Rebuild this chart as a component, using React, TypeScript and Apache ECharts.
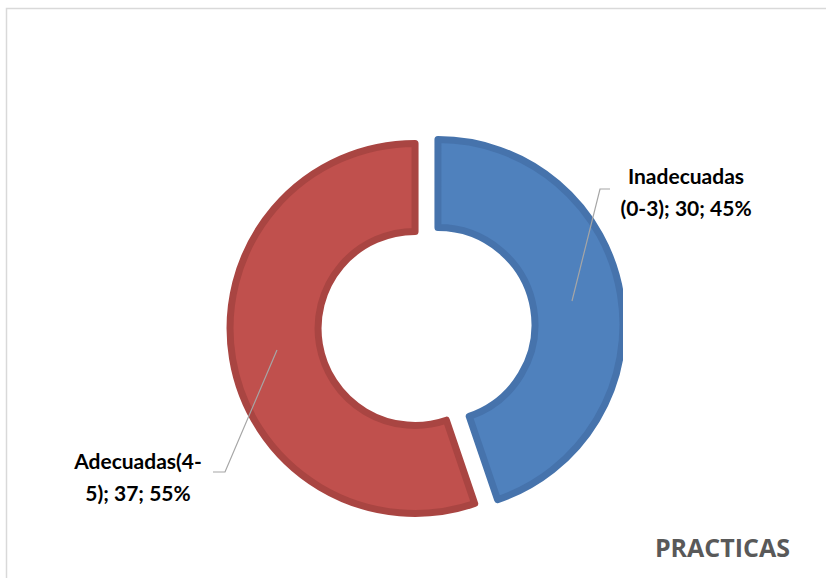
import React, { useEffect, useRef } from "react";
import * as echarts from "echarts";

const categories = ["Inadecuadas (0-3)", "Adecuadas(4-5)"];
const values = [30, 37];
const fillColors = ["#4F81BD", "#C0504D"];
const borderColors = ["#4673AC", "#A94542"];
const labelBreakAt = [12, 12];
const chartTitle = "PRACTICAS";

export default function App() {
  const ref = useRef<HTMLDivElement>(null);
  useEffect(() => {
    if (!ref.current) return;
    const chart = echarts.init(ref.current, undefined, { renderer: "svg" });
    const total = values.reduce((a, b) => a + b, 0);
    const labelText = categories.map((name, i) => {
      const s = `${name}; ${values[i]}; ${Math.round((values[i] / total) * 100)}%`;
      const k = labelBreakAt[i];
      return s.slice(0, k).trim() + "\n" + s.slice(k).trim();
    });
    const labelPos = [
      { x: 686, y: 191, line: [[572, 301], [600, 189], [610, 189]] },
      { x: 138, y: 476, line: [[277, 350], [225, 472], [213, 472]] },
    ];
    const labelGraphics: any[] = [];
    labelPos.forEach((lp, i) => {
      labelGraphics.push({
        type: "polyline",
        z: 102,
        shape: { points: lp.line },
        style: { stroke: "#A6A6A6", lineWidth: 1.2, fill: null },
      });
      labelGraphics.push({
        type: "text",
        z: 102,
        x: lp.x,
        y: lp.y,
        style: {
          text: labelText[i],
          fontFamily: "Lato",
          fontWeight: "bold",
          fontSize: 21,
          lineHeight: 32,
          fill: "#000000",
          align: "center",
          verticalAlign: "middle",
        },
      });
    });
    chart.setOption({
      animation: false,
      backgroundColor: "#ffffff",
      title: {
        text: chartTitle,
        right: 36,
        top: 534,
        padding: 0,
        textStyle: { fontFamily: "Open Sans", fontWeight: "bold", fontSize: 25, color: "#595959" },
      },
      graphic: [
        { type: "rect", z: 100, shape: { x: 623, y: 270, width: 14, height: 120 }, style: { fill: "#ffffff" } },
        { type: "rect", z: 100, shape: { x: 340, y: 518, width: 150, height: 14 }, style: { fill: "#ffffff" } },
        { type: "polyline", z: 101, shape: { points: [[6.5, 600], [6.5, 8.5], [830, 8.5]] }, style: { stroke: "#D9D9D9", lineWidth: 1.5, fill: null } },
        ...labelGraphics,
      ],
      series: [
        {
          type: "pie",
          center: [426.5, 326.5],
          radius: [97, 185],
          startAngle: 90,
          clockwise: true,
          selectedMode: "multiple",
          selectedOffset: 11.6,
          emphasis: { disabled: true },
          label: { show: false },
          labelLine: { show: false },
          data: categories.map((name, i) => ({
            name,
            value: values[i],
            selected: true,
            itemStyle: { color: fillColors[i], borderColor: borderColors[i], borderWidth: 7 },
          })),
        },
      ],
    });
    return () => chart.dispose();
  }, []);
  return (
    <div
      ref={ref}
      style={{ position: "absolute", left: 0, top: 0, width: 826, height: 578 }}
    />
  );
}
